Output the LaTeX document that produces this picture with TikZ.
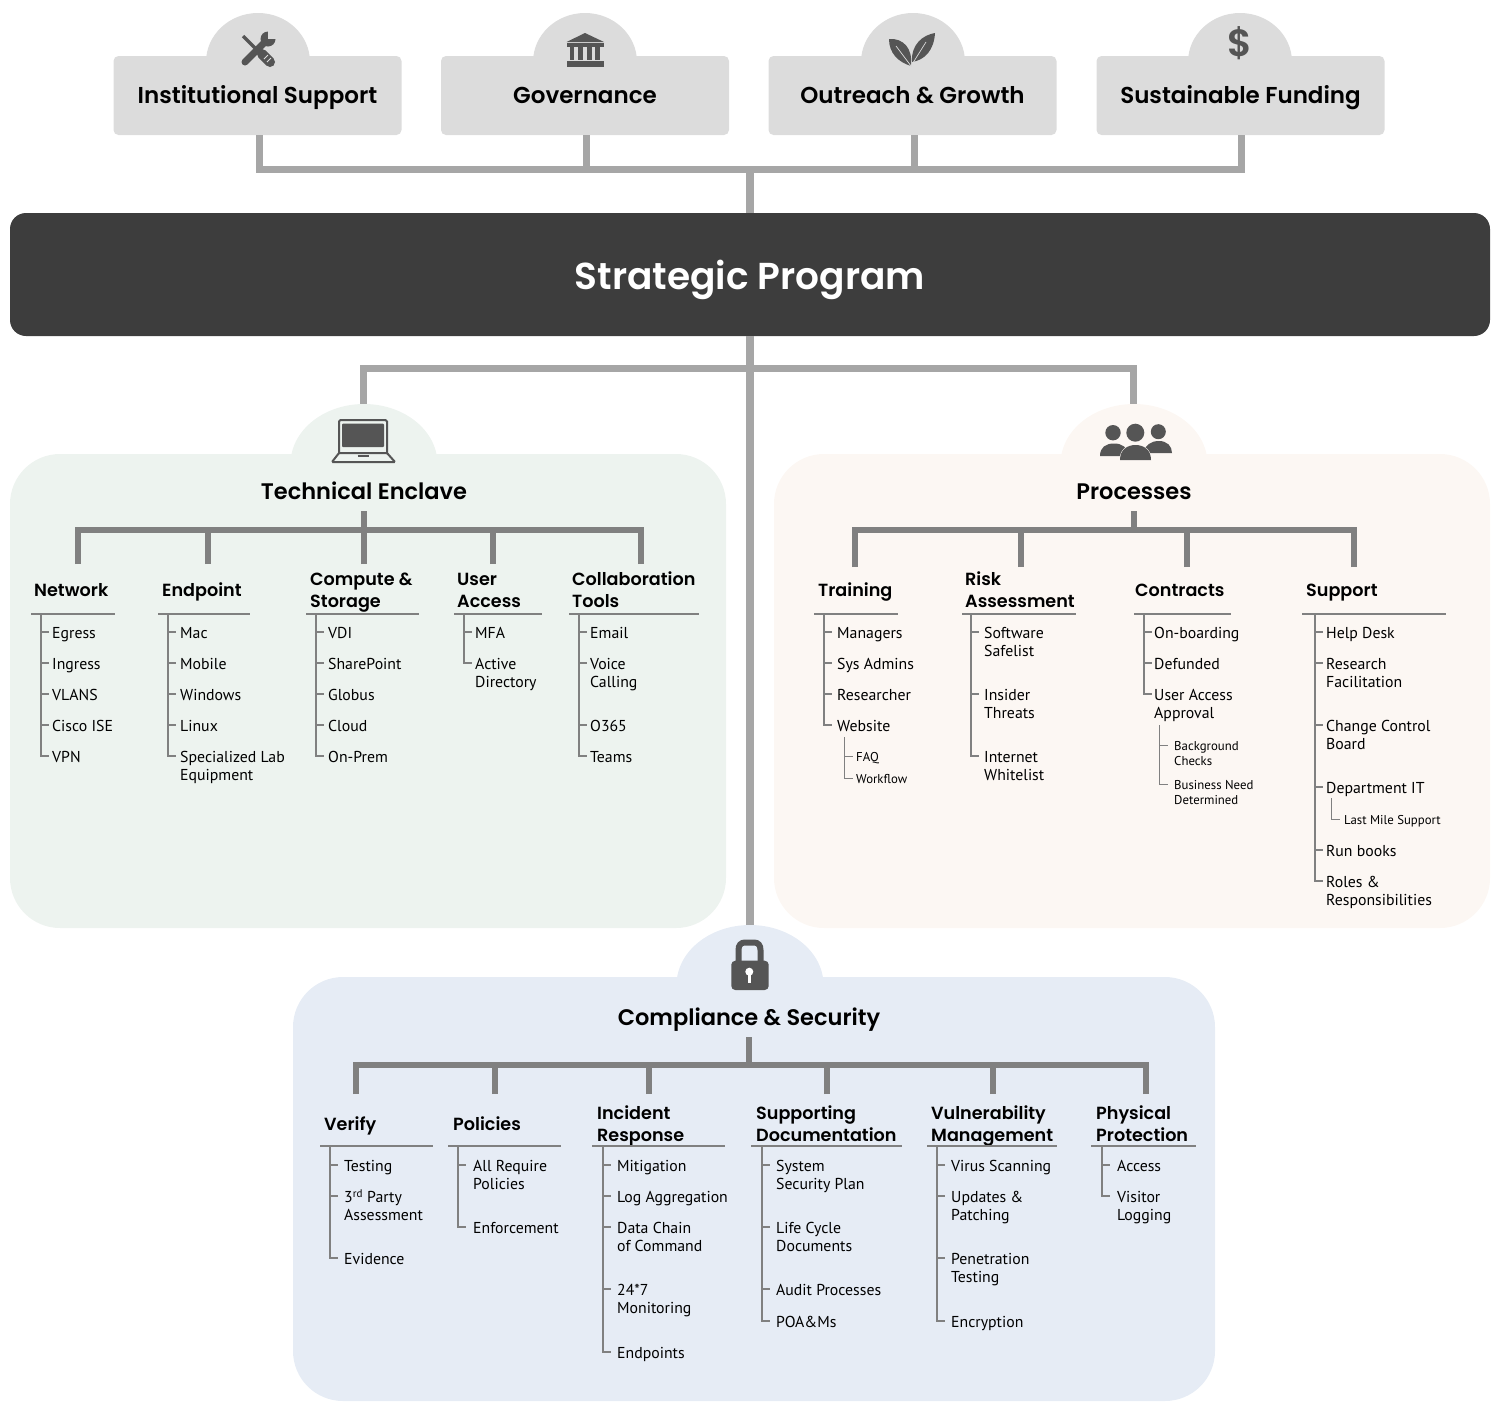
\documentclass[tikz,border=0pt]{standalone}
\usepackage{fontspec}
\setmainfont{PT Sans}
\newfontfamily\headfont{Poppins}[BoldFont={Poppins SemiBold}]
\usetikzlibrary{shapes.geometric}

\definecolor{boxgray}{HTML}{DCDCDC}
\definecolor{bannergray}{HTML}{3D3D3D}
\definecolor{maingray}{HTML}{A6A6A6}
\definecolor{treegray}{HTML}{808080}
\definecolor{icongray}{HTML}{555555}
\definecolor{techgreen}{HTML}{EDF3EF}
\definecolor{procsand}{HTML}{FCF7F3}
\definecolor{compblue}{HTML}{E6ECF5}

\tikzset{
	topbox/.style={rectangle, rounded corners=5pt, fill=boxgray, minimum width=288, minimum height=79, inner sep=0pt, text height=16.5pt, text depth=0pt, font=\headfont\bfseries\fontsize{23}{26}\selectfont},
	topdome/.style={ellipse, fill=boxgray, minimum width=104, minimum height=98, inner sep=0pt},
	panelbox/.style={rectangle, rounded corners=50pt, inner sep=0pt},
	paneldome/.style={ellipse, minimum width=147, minimum height=120, inner sep=0pt},
	paneltitle/.style={minimum height=40, inner sep=0pt, text height=16pt, text depth=0pt, font=\headfont\bfseries\fontsize{22.5}{26}\selectfont},
	mainline/.style={draw=maingray, line width=7pt},
	stemline/.style={draw=treegray, line width=6pt},
	ruleline/.style={draw=treegray, line width=2.6pt},
	subline/.style={draw=treegray, line width=1pt},
	headtext/.style={anchor=west, inner sep=0pt, yshift=-1.7pt, align=left, font=\headfont\bfseries\fontsize{17.6}{22}\selectfont},
	itemtext/.style={anchor=north west, inner sep=0pt, yshift=6.5pt, align=left, font=\fontsize{15.8}{18}\selectfont},
	subtext/.style={anchor=north west, inner sep=0pt, yshift=6pt, align=left, font=\fontsize{12.8}{15.5}\selectfont}
}

% name, heading, drop x, heading x, rule from, rule to, trunk x, text x, items
\newcommand{\branchcol}[9]{
	\coordinate (#1-drop) at (#3,\dropy);
	\draw[stemline] (#1-drop) -- (#1-drop |- \barname);
	\node[headtext] (#1-head) at (#4,\heady) {\strut #2\strut};
	\coordinate (#1-rulea) at (#5,\ruley);
	\coordinate (#1-ruleb) at (#6,\ruley);
	\draw[ruleline] (#1-rulea) -- (#1-ruleb);
	\coordinate (#1-top) at (#7,\ruley);
	\foreach \ypos/\txt [count=\i] in {#9} {
		\node[itemtext] (#1-\i) at (#8,\ypos) {\strut\txt};
		\coordinate (#1-tick\i) at (#7,\ypos);
		\coordinate (#1-end\i) at (#7+8,\ypos);
		\draw[ruleline] (#1-top) -- (#1-tick\i) -- (#1-end\i);
	}
}

% name, trunk top y, trunk x, text x, items
\newcommand{\subcol}[5]{
	\coordinate (#1-top) at (#3,#2);
	\foreach \ypos/\txt [count=\i] in {#5} {
		\node[subtext] (#1-\i) at (#4,\ypos) {\strut\txt};
		\coordinate (#1-tick\i) at (#3,\ypos);
		\coordinate (#1-end\i) at (#3+9,\ypos);
		\draw[subline] (#1-top) -- (#1-tick\i) -- (#1-end\i);
	}
}

\begin{document}
\begin{tikzpicture}[x=1pt, y=-1pt]
	\useasboundingbox (0,0) rectangle (1500,1422);

	% top row
	\foreach \name/\xpos in {inst/258, gov/585, out/913, fund/1240} {
		\node[topdome] (\name-dome) at (\xpos,62) {};
	}
	\node[topbox] (inst) at (257.5,95.5) {Institutional Support};
	\node[topbox] (gov) at (585,95.5) {Governance};
	\node[topbox] (out) at (912.5,95.5) {Outreach \& Growth};
	\node[topbox] (fund) at (1240.5,95.5) {Sustainable Funding};

	% banner
	\node[rectangle, rounded corners=16pt, fill=bannergray, text=white, minimum width=1480, minimum height=123, inner sep=0pt, text height=29pt, text depth=0pt, font=\headfont\bfseries\fontsize{37.5}{40}\selectfont] (banner) at (750,274.5) {Strategic Program};

	% panels
	\node[paneldome, fill=techgreen] (techdome) at (364,464) {};
	\node[paneldome, fill=procsand] (procdome) at (1134,464) {};
	\node[paneldome, fill=compblue] (compdome) at (750,985) {};
	\node[panelbox, fill=techgreen, minimum width=716, minimum height=474] (techpanel) at (368,691) {};
	\node[panelbox, fill=procsand, minimum width=716, minimum height=474] (procpanel) at (1132,691) {};
	\node[panelbox, fill=compblue, minimum width=922, minimum height=424] (comppanel) at (754,1189) {};

	% main connectors
	\coordinate (topbar) at (750,169);
	\coordinate (midbar) at (750,368);
	\draw[mainline] ([xshift=1.5pt]inst.south) |- (topbar) -| ([xshift=.5pt]fund.south);
	\draw[mainline] ([xshift=1pt]gov.south) -- ([xshift=1pt]gov.south |- topbar);
	\draw[mainline] ([xshift=1.5pt]out.south) -- ([xshift=1.5pt]out.south |- topbar);
	\draw[mainline, line width=8pt] (topbar) -- (banner.north);
	\draw[mainline] ([xshift=-1pt]techdome.north) |- (midbar) -| ([xshift=-1pt]procdome.north);
	\draw[mainline, line width=8pt] (banner.south) -- (compdome.north);

	% technical enclave
	\node[paneltitle] (techtitle) at (364,491) {Technical Enclave};
	\coordinate (techbar) at (364,530);
	\draw[stemline] (techtitle.south) -- (techbar);
	\def\barname{techbar}\def\dropy{564}\def\heady{590}\def\ruley{614}
	\branchcol{net}{Network}{78}{34}{31}{115}{41}{52}{632/Egress, 663/Ingress, 694/VLANS, 725/Cisco ISE, 756/VPN}
	\branchcol{endp}{Endpoint}{208}{162}{158}{250}{168}{180}{632/Mac, 663/Mobile, 694/Windows, 725/Linux, 756/Specialized Lab\\Equipment}
	\branchcol{comput}{Compute \&\\Storage}{364}{310}{306}{419}{316}{328}{632/VDI, 663/SharePoint, 694/Globus, 725/Cloud, 756/On-Prem}
	\branchcol{user}{User\\Access}{493}{457}{454}{542}{464}{475}{632/MFA, 663/Active\\Directory}
	\branchcol{collab}{Collaboration\\Tools}{641}{572}{569}{699}{579}{590}{632/Email, 663/Voice\\Calling, 725/O365, 756/Teams}
	\draw[stemline, line cap=rect] (net-drop |- techbar) -- (collab-drop |- techbar);

	% processes
	\node[paneltitle] (proctitle) at (1134,491) {Processes};
	\coordinate (procbar) at (1134,530);
	\draw[stemline] (proctitle.south) -- (procbar);
	\def\barname{procbar}\def\dropy{567}
	\branchcol{train}{Training}{855}{818}{814}{898}{824}{837}{632/Managers, 663/Sys Admins, 694/Researcher, 725/Website}
	\subcol{web}{737}{844}{856}{756/FAQ, 778/Workflow}
	\branchcol{risk}{Risk\\Assessment}{1021}{965}{962}{1076}{971}{984}{632/Software\\Safelist, 694/Insider\\Threats, 756/Internet\\Whitelist}
	\branchcol{contr}{Contracts}{1187}{1135}{1134}{1231}{1144}{1154}{632/On-boarding, 663/Defunded, 694/User Access\\Approval}
	\subcol{appr}{725}{1159}{1174}{745/Background\\Checks, 784/Business Need\\Determined}
	\branchcol{supp}{Support}{1354}{1306}{1302}{1446}{1315}{1326}{632/Help Desk, 663/Research\\Facilitation, 725/Change Control\\Board, 787/Department IT, 850/Run books, 881/Roles \&\\Responsibilities}
	\subcol{dept}{798}{1331}{1344}{819/Last Mile Support}
	\draw[stemline, line cap=rect] (train-drop |- procbar) -- (supp-drop |- procbar);

	% compliance and security
	\node[paneltitle] (comptitle) at (749,1017) {Compliance \& Security};
	\coordinate (compbar) at (749,1065);
	\draw[stemline] (comptitle.south) -- (compbar);
	\def\barname{compbar}\def\dropy{1094}\def\heady{1124}\def\ruley{1146}
	\branchcol{verif}{Verify}{356}{324}{320}{433}{330}{344}{1165/Testing, 1196/3\textsuperscript{rd} Party\\Assessment, 1258/Evidence}
	\branchcol{polic}{Policies}{495}{453}{448}{561}{458}{473}{1165/All Require\\Policies, 1227/Enforcement}
	\branchcol{incid}{Incident\\Response}{649}{597}{592}{725}{603}{617}{1165/Mitigation, 1196/Log Aggregation, 1227/Data Chain\\of Command, 1289/24*7\\Monitoring, 1352/Endpoints}
	\branchcol{docs}{Supporting\\Documentation}{827}{756}{751}{902}{762}{776}{1165/System\\Security Plan, 1227/Life Cycle\\Documents, 1289/Audit Processes, 1321/POA\&Ms}
	\branchcol{vuln}{Vulnerability\\Management}{993}{931}{927}{1057}{937}{951}{1165/Virus Scanning, 1196/Updates \&\\Patching, 1258/Penetration\\Testing, 1321/Encryption}
	\branchcol{phys}{Physical\\Protection}{1146}{1096}{1091}{1196}{1102}{1117}{1165/Access, 1196/Visitor\\Logging}
	\draw[stemline, line cap=rect] (verif-drop |- compbar) -- (phys-drop |- compbar);

	% icons
	\begin{scope}[fill=icongray, draw=icongray]
		% tools
		\draw[line width=3.5pt] (243,36) -- (258,51);
		\draw[line width=10pt, line cap=round] (262,54) -- (270,62);
		\draw[boxgray, line width=1pt] (264,59) -- (268,55) (267,62) -- (271,58);
		\draw[line width=7pt, line cap=round] (245,62) -- (265,42);
		\fill (268,39) circle[radius=7.5];
		\fill[boxgray] (268,39) -- (268,29) -- (278,29) -- (278,39) -- cycle;
		% columns
		\fill (566.5,42) -- (585,33) -- (604,42) -- cycle;
		\fill (566.5,43) rectangle (604,46.5);
		\foreach \xpos in {569.5,578,587,595} {
			\fill (\xpos,47) rectangle (\xpos+4.5,60);
		}
		\fill (566.5,61) rectangle (604,67);
		% leaves
		\fill (889,39) .. controls (903,38) and (913,48) .. (911,66) .. controls (898,62) and (889,53) .. (889,39) -- cycle;
		\fill (935,33) .. controls (923,35) and (911,44) .. (912,62) .. controls (925,60) and (934,50) .. (935,33) -- cycle;
		\draw[boxgray, line width=.7pt] (896,46) -- (911,66) -- (926,42);
		% dollar
		\node[inner sep=0pt, text=icongray, font=\headfont\bfseries\fontsize{38}{40}\selectfont] (dollar) at (1240,43) {\$};
		% laptop
		\draw[line width=2pt, rounded corners=1.5pt, fill=techgreen] (339,453) -- (339,420) -- (387,420) -- (387,453);
		\fill[rounded corners=1pt] (342,423.5) rectangle (384,447);
		\draw[line width=2pt, rounded corners=1pt] (339,453) -- (387,453) -- (395,462) -- (332,462) -- cycle;
		\draw[line width=2pt] (357.5,455.5) -- (369,455.5);
		% people
		\fill (1113,432.7) circle[radius=7.7];
		\fill (1158.3,431.7) circle[radius=7.5];
		\fill (1135.3,432.7) circle[radius=9];
		\fill (1100,456) .. controls (1100,447) and (1106,443.5) .. (1114,443.5) .. controls (1122,443.5) and (1128,447) .. (1128,456) -- cycle;
		\fill (1143,453) .. controls (1145,445) and (1151,441) .. (1159,441) .. controls (1167,441) and (1172,446) .. (1172,453) -- cycle;
		\draw[procsand, line width=1pt] (1120,460) .. controls (1120,450) and (1127,445) .. (1135.5,445) .. controls (1144,445) and (1151,450) .. (1151,460) -- cycle;
		\fill (1120,460) .. controls (1120,450) and (1127,445) .. (1135.5,445) .. controls (1144,445) and (1151,450) .. (1151,460) -- cycle;
		% lock
		\draw[line width=6pt] (738.5,963) -- (738.5,950) .. controls (738.5,945) and (741,942.5) .. (745,942.5) -- (754,942.5) .. controls (758,942.5) and (760.5,945) .. (760.5,950) -- (760.5,963);
		\fill[rounded corners=4pt] (731.3,960.7) rectangle (768.7,990);
		\fill[white] (749.3,971.7) circle[radius=4];
		\fill[white] (747.6,973) rectangle (751.2,982.7);
	\end{scope}
\end{tikzpicture}
\end{document}
